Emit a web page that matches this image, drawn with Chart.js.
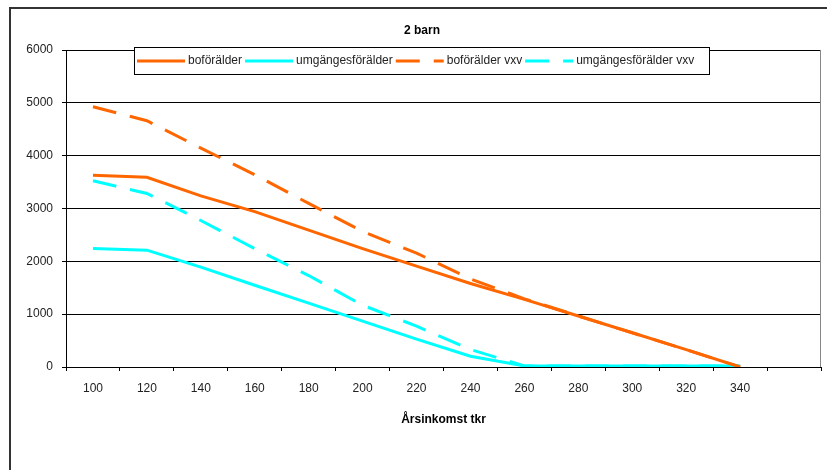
<!DOCTYPE html>
<html><head><meta charset="utf-8">
<script src="https://cdn.jsdelivr.net/npm/chart.js@4.4.0/dist/chart.umd.min.js"></script>
<style>
html,body{margin:0;padding:0;background:#fff;overflow:hidden;width:827px;height:470px;}
#frame{position:absolute;left:9px;top:7px;width:900px;height:520px;border:2px solid #333;box-sizing:border-box;}
#c{position:absolute;left:0;top:0;}
</style></head><body>
<div id="frame"></div>
<canvas id="c" width="827" height="470"></canvas>
<script>
const chartTitle = '2 barn';
const xAxisTitle = 'Årsinkomst tkr';
const categories = ['100','120','140','160','180','200','220','240','260','280','300','320','340',''];
const boforalder = [3630, 3590, 3240, 2940, 2590, 2240, 1910, 1580, 1280, 966, 648, 328, 0];
const umgangesforalder = [2243, 2211, 1891, 1548, 1209, 868, 527, 203, 20, 20, 20, 20, 20];
const boforalderVxv = [4926, 4661, 4143, 3640, 3096, 2565, 2156, 1668, 1290, 966, 648, 328, 0];
const umgangesforalderVxv = [3524, 3285, 2773, 2240, 1731, 1169, 773, 330, 20, 20, 20, 20, 20];
const yTicks = [0, 1000, 2000, 3000, 4000, 5000, 6000];

const ORANGE = '#FF6600', CYAN = '#00FFFF';
const FONT = '"Liberation Sans", Arial, sans-serif';
const DASH = [24, 14];

const extras = {
  id: 'extras',
  beforeDatasetsDraw(chart) {
    const {ctx, chartArea: a} = chart;
    ctx.save();
    ctx.strokeStyle = '#888';
    ctx.lineWidth = 1;
    ctx.beginPath();
    ctx.moveTo(Math.round(a.right) - 0.5, a.top);
    ctx.lineTo(Math.round(a.right) - 0.5, a.bottom);
    ctx.stroke();
    ctx.restore();
  },
  afterDraw(chart) {
    const {ctx} = chart;
    ctx.save();
    ctx.fillStyle = '#000';
    ctx.font = 'bold 12px ' + FONT;
    ctx.textAlign = 'center';
    ctx.textBaseline = 'middle';
    ctx.fillText(chartTitle, 422, 31);
    const bx = 134.5, by = 47.5, bw = 575, bh = 27;
    ctx.fillStyle = '#fff';
    ctx.fillRect(bx, by, bw, bh);
    ctx.strokeStyle = '#000';
    ctx.lineWidth = 1;
    ctx.strokeRect(bx, by, bw, bh);
    ctx.font = '12px ' + FONT;
    ctx.textAlign = 'left';
    let x = 137;
    const ly = 61;
    chart.data.datasets.forEach(ds => {
      ctx.strokeStyle = ds.borderColor;
      ctx.lineWidth = 3;
      ctx.setLineDash(ds.borderDash || []);
      ctx.beginPath();
      ctx.moveTo(x, ly);
      ctx.lineTo(x + 48, ly);
      ctx.stroke();
      ctx.setLineDash([]);
      ctx.fillStyle = '#222';
      ctx.fillText(ds.label, x + 51, ly);
      x += 51 + ctx.measureText(ds.label).width + 3;
    });
    ctx.restore();
  }
};

new Chart(document.getElementById('c'), {
  type: 'line',
  data: {
    labels: categories,
    datasets: [
      {label: 'boförälder', data: boforalder, borderColor: ORANGE, backgroundColor: ORANGE, borderWidth: 3},
      {label: 'umgängesförälder', data: umgangesforalder, borderColor: CYAN, backgroundColor: CYAN, borderWidth: 3},
      {label: 'boförälder vxv', data: boforalderVxv, borderColor: ORANGE, backgroundColor: ORANGE, borderWidth: 3, borderDash: DASH},
      {label: 'umgängesförälder vxv', data: umgangesforalderVxv, borderColor: CYAN, backgroundColor: CYAN, borderWidth: 3, borderDash: DASH}
    ]
  },
  options: {
    responsive: false,
    animation: false,
    devicePixelRatio: 1,
    layout: {padding: {top: 50, left: 12, right: 6, bottom: 43}},
    elements: {point: {radius: 0}, line: {tension: 0, borderCapStyle: 'butt'}},
    plugins: {legend: {display: false}, title: {display: false}, tooltip: {enabled: false}},
    scales: {
      x: {
        type: 'category',
        offset: true,
        grid: {offset: true, drawOnChartArea: false, drawTicks: true, tickLength: 4, color: '#000'},
        border: {display: true, color: '#000', width: 1},
        ticks: {color: '#222', font: {family: FONT, size: 12}, padding: 10, maxRotation: 0, autoSkip: false},
        title: {display: true, text: xAxisTitle, color: '#000', font: {family: FONT, size: 12, weight: 'bold'}, padding: {top: 0, bottom: 0}},
        afterFit(s) { s.height = 60; }
      },
      y: {
        min: 0, max: 6000,
        afterBuildTicks(s) { s.ticks = yTicks.map(v => ({value: v})); },
        grid: {color: '#000', lineWidth: 1, tickLength: 4, drawTicks: true},
        border: {display: true, color: '#000', width: 1},
        ticks: {color: '#222', font: {family: FONT, size: 12}, padding: 9, callback: v => String(v)},
        afterFit(s) { s.width = 54; }
      }
    }
  },
  plugins: [extras]
});
</script>
</body></html>
